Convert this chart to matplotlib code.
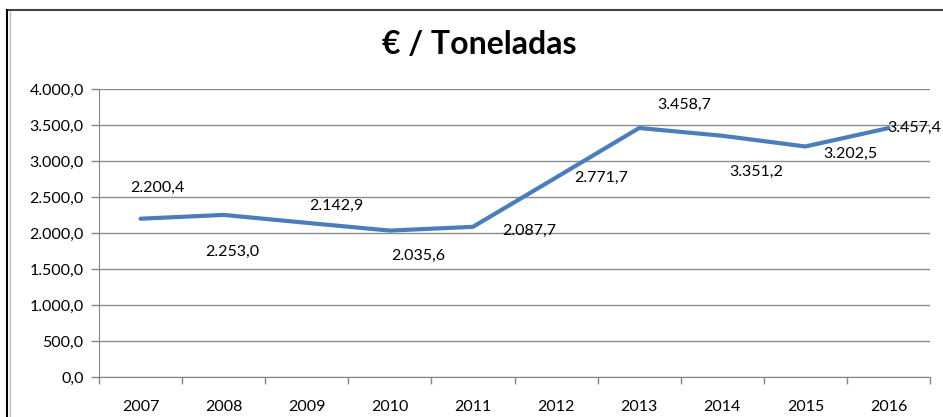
import matplotlib.pyplot as plt
from matplotlib.lines import Line2D
from matplotlib.ticker import FixedLocator, FuncFormatter

years = ["2007", "2008", "2009", "2010", "2011", "2012", "2013", "2014", "2015", "2016"]
valores = [2200.4, 2253.0, 2142.9, 2035.6, 2087.7, 2771.7, 3458.7, 3351.2, 3202.5, 3457.4]
etiquetas = ["2.200,4", "2.253,0", "2.142,9", "2.035,6", "2.087,7",
             "2.771,7", "3.458,7", "3.351,2", "3.202,5", "3.457,4"]
# label offsets (pixels) from each point, as placed in the original
offsets = [(17, 31), (9, -37), (30, 17), (28, -25), (56, -4),
           (45, 0), (45, 23), (34, -36), (45, -7), (26, 0)]


def fmt(v, pos):
    s = f"{v:,.1f}"
    return s.replace(",", "X").replace(".", ",").replace("X", ".")


plt.rcParams["font.family"] = ["Lato", "DejaVu Sans"]

fig = plt.figure(figsize=(9.43, 4.17), dpi=100)
ax = fig.add_axes([99 / 943, 1 - 377.3 / 417, 831 / 943, 288.3 / 417])

x = list(range(len(years)))
ax.plot(x, valores, color="#4A7EBB", lw=3, solid_capstyle="round", zorder=3)

for xi, v, lab, (dx, dy) in zip(x, valores, etiquetas, offsets):
    ax.annotate(lab, (xi, v), xytext=(dx, dy), textcoords="offset pixels",
                ha="center", va="center", fontsize=11.5, color="black")

ax.set_xlim(-0.5, len(years) - 0.5)
ax.set_ylim(0, 4000)
ax.set_yticks(range(0, 4001, 500))
ax.yaxis.set_major_formatter(FuncFormatter(fmt))
ax.set_xticks(x)
ax.set_xticklabels(years)
ax.xaxis.set_minor_locator(FixedLocator([i - 0.5 for i in range(len(years) + 1)]))
ax.tick_params(axis="x", which="major", length=0, pad=16, labelsize=11.5)
ax.tick_params(axis="x", which="minor", length=5, color="#868686", width=1)
ax.tick_params(axis="y", length=6, color="#868686", width=1, pad=5, labelsize=11.5)

ax.grid(axis="y", color="#8C8C8C", lw=1)
ax.set_axisbelow(True)
for side in ["top", "right"]:
    ax.spines[side].set_visible(False)
ax.spines["left"].set_color("#868686")
ax.spines["bottom"].set_color("#868686")

fig.text(479 / 943, 1 - 45 / 417, "€ / Toneladas", ha="center", va="center",
         fontsize=23, fontweight="bold")

# chart frame (cropped)
fig.add_artist(Line2D([7 / 943, 1], [1 - 10 / 417, 1 - 10 / 417], color="#404040", lw=1.5))
fig.add_artist(Line2D([7.5 / 943, 7.5 / 943], [0, 1 - 10 / 417], color="black", lw=1.5))
fig.add_artist(Line2D([9.5 / 943, 9.5 / 943], [0, 1 - 11 / 417], color="#BBBBBB", lw=1))

plt.savefig("out.png", dpi=100)
